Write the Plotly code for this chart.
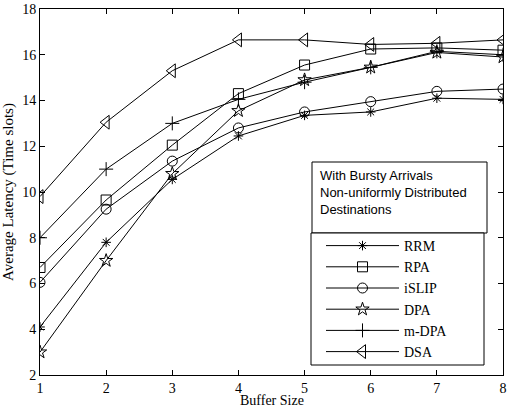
import plotly.graph_objects as go

buffer_size = [1, 2, 3, 4, 5, 6, 7, 8]
rrm = [4.1, 7.8, 10.55, 12.45, 13.35, 13.5, 14.1, 14.05]
rpa = [6.7, 9.65, 12.05, 14.3, 15.55, 16.25, 16.3, 16.2]
islip = [6.05, 9.25, 11.35, 12.8, 13.5, 13.95, 14.4, 14.5]
dpa = [3.0, 7.0, 10.8, 13.55, 14.9, 15.45, 16.1, 15.9]
mdpa = [8.0, 11.0, 13.0, 14.05, 14.8, 15.45, 16.15, 16.0]
dsa = [9.8, 13.05, 15.3, 16.65, 16.65, 16.45, 16.5, 16.65]

series = [
    ("RRM", rrm, "asterisk-open", 8),
    ("RPA", rpa, "square-open", 10),
    ("iSLIP", islip, "circle-open", 10),
    ("DPA", dpa, "star-open", 10),
    ("m-DPA", mdpa, "cross-thin-open", 10),
    ("DSA", dsa, "triangle-left-open", 12),
]

fig = go.Figure()
for name, ys, sym, sz in series:
    fig.add_trace(go.Scatter(
        x=buffer_size, y=ys, name=name, mode="lines+markers",
        line=dict(color="black", width=1),
        marker=dict(symbol=sym, size=sz, color="black", line=dict(color="black", width=1)),
    ))

serif = "Liberation Serif, Times New Roman, serif"
axis_common = dict(
    showline=True, linecolor="black", linewidth=1, mirror="allticks",
    ticks="inside", ticklen=5, tickcolor="black", tickwidth=1,
    showgrid=False, zeroline=False, automargin=False,
    tickfont=dict(family=serif, size=14, color="black"),
)

L, R, T, B = 40, 503, 9, 375
W, H = R - L, B - T

def px(x):
    return (x - L) / W

def py(y):
    return (B - y) / H

fig.update_layout(
    width=510, height=410,
    margin=dict(l=L, r=510 - R, t=T, b=410 - B),
    paper_bgcolor="white", plot_bgcolor="white",
    xaxis=dict(range=[1, 8], tickvals=buffer_size, **axis_common),
    yaxis=dict(range=[2, 18], tickvals=[2, 4, 6, 8, 10, 12, 14, 16, 18], **axis_common,
               title=dict(text="Average Latency (Time slots)", font=dict(family=serif, size=15, color="black"), standoff=6)),
    showlegend=True,
    legend=dict(
        x=px(321), y=py(230), xanchor="left", yanchor="top",
        bgcolor="rgba(0,0,0,0)", borderwidth=0,
        font=dict(family=serif, size=14, color="black"),
        itemwidth=73, tracegroupgap=0,
    ),
    shapes=[
        dict(type="rect", xref="paper", yref="paper",
             x0=px(312), x1=px(487), y0=py(233), y1=py(162),
             line=dict(color="black", width=1), fillcolor="white", layer="above"),
        dict(type="rect", xref="paper", yref="paper",
             x0=px(311), x1=px(484), y0=py(365), y1=py(233),
             line=dict(color="black", width=1), fillcolor="white", layer="above"),
    ],
    annotations=[
        dict(text="With Bursty Arrivals<br>Non-uniformly Distributed<br>Destinations",
             xref="paper", yref="paper", x=px(318), y=py(166),
             xanchor="left", yanchor="top", align="left", showarrow=False,
             font=dict(family="Liberation Sans, Arial, sans-serif", size=13, color="black")),
        dict(text="Buffer Size", xref="paper", yref="paper", x=0.5, y=py(410),
             xanchor="center", yanchor="bottom", showarrow=False,
             font=dict(family=serif, size=14, color="black")),
    ],
)

fig.write_html("out.html")
